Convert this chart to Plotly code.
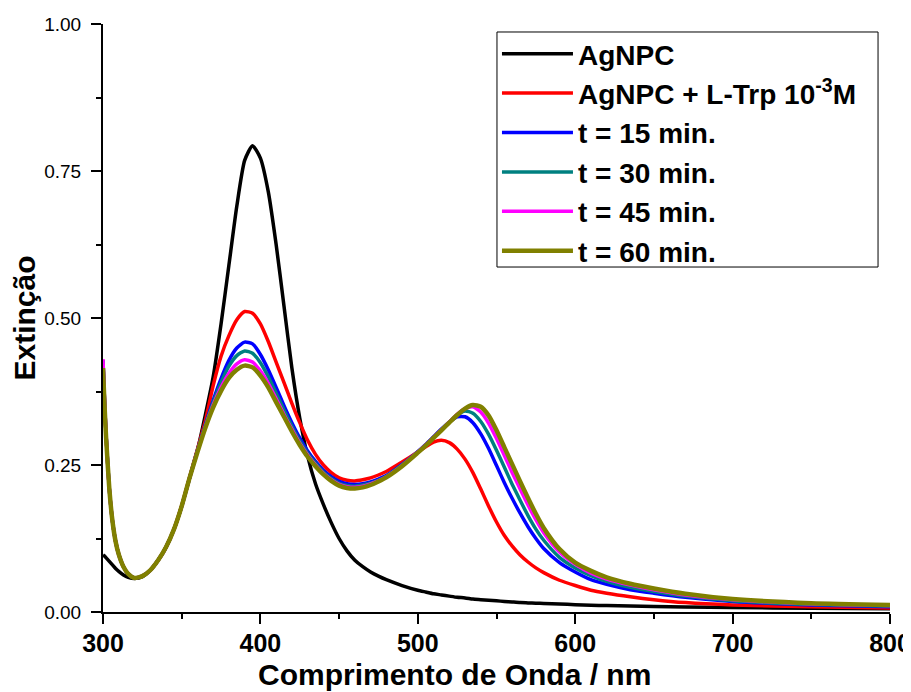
import plotly.graph_objects as go

# Wavelength grid (nm)
wavelength = [300, 301, 302, 304, 306, 308, 310, 313, 316, 320, 325, 330, 335, 340, 345,
              350, 355, 360, 365, 370, 375, 380, 385, 390, 395, 400, 405, 410, 415, 420,
              425, 430, 435, 440, 445, 450, 455, 460, 465, 470, 475, 480, 490, 500, 505,
              510, 515, 520, 525, 530, 535, 540, 545, 550, 555, 560, 565, 570, 575, 580,
              590, 600, 610, 620, 635, 650, 670, 700, 750, 800]

agnpc = [0.097, 0.095, 0.092, 0.086, 0.080, 0.074, 0.069, 0.063, 0.059, 0.057, 0.060, 0.071, 0.088, 0.110, 0.140,
         0.180, 0.228, 0.275, 0.335, 0.400, 0.490, 0.590, 0.690, 0.768, 0.793, 0.772, 0.715, 0.625, 0.520, 0.415,
         0.330, 0.265, 0.218, 0.183, 0.152, 0.125, 0.104, 0.088, 0.077, 0.068, 0.061, 0.055, 0.045, 0.037, 0.034,
         0.031, 0.029, 0.027, 0.025, 0.024, 0.022, 0.021, 0.020, 0.019, 0.018, 0.017, 0.016, 0.0155, 0.015, 0.0145,
         0.0135, 0.0125, 0.0115, 0.011, 0.010, 0.0095, 0.0085, 0.0075, 0.0065, 0.0055]

agnpc_trp = [0.425, 0.355, 0.298, 0.210, 0.155, 0.120, 0.098, 0.077, 0.065, 0.058, 0.061, 0.071, 0.088, 0.110, 0.140,
             0.181, 0.229, 0.277, 0.325, 0.385, 0.435, 0.470, 0.497, 0.511, 0.508, 0.490, 0.460, 0.425, 0.390, 0.355,
             0.322, 0.292, 0.268, 0.250, 0.237, 0.228, 0.224, 0.223, 0.225, 0.228, 0.233, 0.239, 0.255, 0.272, 0.281,
             0.289, 0.292, 0.288, 0.277, 0.260, 0.237, 0.209, 0.180, 0.153, 0.130, 0.112, 0.097, 0.085, 0.075, 0.067,
             0.054, 0.045, 0.037, 0.032, 0.026, 0.021, 0.016, 0.012, 0.009, 0.007]

t15 = [0.428, 0.357, 0.299, 0.210, 0.155, 0.120, 0.098, 0.077, 0.065, 0.058, 0.061, 0.071, 0.088, 0.110, 0.140,
       0.180, 0.228, 0.275, 0.319, 0.360, 0.397, 0.428, 0.449, 0.459, 0.456, 0.438, 0.412, 0.382, 0.351, 0.322,
       0.296, 0.274, 0.256, 0.241, 0.230, 0.222, 0.218, 0.217, 0.218, 0.221, 0.226, 0.232, 0.251, 0.273, 0.285,
       0.298, 0.311, 0.323, 0.332, 0.332, 0.322, 0.303, 0.278, 0.249, 0.220, 0.193, 0.168, 0.145, 0.125, 0.108,
       0.084, 0.068, 0.055, 0.047, 0.038, 0.032, 0.025, 0.018, 0.012, 0.009]

t30 = [0.428, 0.357, 0.299, 0.210, 0.155, 0.120, 0.098, 0.077, 0.065, 0.058, 0.061, 0.071, 0.088, 0.110, 0.140,
       0.180, 0.228, 0.274, 0.317, 0.356, 0.390, 0.418, 0.436, 0.444, 0.440, 0.424, 0.400, 0.372, 0.343, 0.316,
       0.291, 0.270, 0.253, 0.238, 0.227, 0.219, 0.215, 0.214, 0.216, 0.219, 0.224, 0.231, 0.250, 0.272, 0.284,
       0.297, 0.310, 0.323, 0.335, 0.342, 0.338, 0.324, 0.302, 0.275, 0.246, 0.217, 0.190, 0.164, 0.141, 0.122,
       0.093, 0.075, 0.062, 0.052, 0.042, 0.035, 0.027, 0.019, 0.013, 0.010]

t45 = [0.430, 0.358, 0.300, 0.210, 0.155, 0.120, 0.098, 0.077, 0.065, 0.058, 0.061, 0.071, 0.088, 0.110, 0.140,
       0.180, 0.228, 0.273, 0.315, 0.352, 0.382, 0.406, 0.422, 0.429, 0.425, 0.410, 0.389, 0.363, 0.336, 0.311,
       0.287, 0.267, 0.250, 0.236, 0.225, 0.217, 0.213, 0.212, 0.214, 0.218, 0.223, 0.230, 0.249, 0.272, 0.284,
       0.297, 0.310, 0.323, 0.336, 0.346, 0.349, 0.340, 0.321, 0.295, 0.266, 0.237, 0.209, 0.182, 0.157, 0.135,
       0.102, 0.081, 0.066, 0.056, 0.046, 0.038, 0.029, 0.021, 0.014, 0.011]

t60 = [0.415, 0.350, 0.295, 0.210, 0.155, 0.120, 0.098, 0.077, 0.065, 0.058, 0.061, 0.071, 0.088, 0.110, 0.140,
       0.180, 0.228, 0.272, 0.313, 0.348, 0.376, 0.398, 0.412, 0.419, 0.416, 0.402, 0.382, 0.357, 0.332, 0.307,
       0.284, 0.264, 0.248, 0.234, 0.223, 0.215, 0.211, 0.210, 0.212, 0.216, 0.222, 0.229, 0.248, 0.271, 0.283,
       0.296, 0.309, 0.322, 0.335, 0.346, 0.352, 0.349, 0.334, 0.309, 0.280, 0.251, 0.222, 0.194, 0.167, 0.143,
       0.107, 0.084, 0.070, 0.059, 0.048, 0.040, 0.031, 0.022, 0.015, 0.012]

series_names = ["AgNPC", "AgNPC + L-Trp 10<sup>-3</sup>M", "t = 15 min.", "t = 30 min.",
                "t = 45 min.", "t = 60 min."]
series_values = [agnpc, agnpc_trp, t15, t30, t45, t60]
series_colors = ["#000000", "#FF0000", "#0000FF", "#008080", "#FF00FF", "#808000"]
series_widths = [3.5, 3.5, 3.5, 3.5, 3.5, 4.5]

x_ticks = [300, 400, 500, 600, 700, 800]
y_ticks = [0.0, 0.25, 0.5, 0.75, 1.0]

fig = go.Figure()
for name, vals, col, w in zip(series_names, series_values, series_colors, series_widths):
    fig.add_trace(go.Scatter(x=wavelength, y=vals, mode="lines", name=name,
                             line=dict(color=col, width=w, shape="spline", smoothing=0.6)))

font_family = "Liberation Sans, Arial, sans-serif"

# the page body adds an 8px offset; margins compensate so the plot area lands at x 103-890, y 24-612
fig.update_layout(
    width=911, height=692,
    margin=dict(l=95, r=29, t=16, b=88),
    paper_bgcolor="white", plot_bgcolor="white",
    font=dict(family=font_family, color="black"),
    showlegend=True,
    legend=dict(x=0.5006, y=0.9915, xanchor="left", yanchor="top",
                bgcolor="rgba(0,0,0,0)", borderwidth=0,
                font=dict(size=28, family=font_family, color="black", weight="bold"),
                itemwidth=71, tracegroupgap=0),
    shapes=[dict(type="rect", xref="paper", yref="paper",
                 x0=0.5006, x1=0.9848, y0=0.5867, y1=0.9864,
                 line=dict(color="black", width=1), fillcolor="white", layer="above")],
    xaxis=dict(range=[300, 800], tickvals=x_ticks, ticktext=[str(v) for v in x_ticks],
               showgrid=False, zeroline=False, showline=True, linecolor="black", linewidth=2,
               ticks="outside", ticklen=10, tickwidth=2, tickcolor="black",
               tickfont=dict(size=25, family=font_family, color="black", weight="bold"),
               ticklabelstandoff=-2,
               minor=dict(dtick=50, ticks="outside", ticklen=5, tickwidth=2, tickcolor="black"),
               automargin=False, mirror=False),
    yaxis=dict(range=[0, 1], tickvals=y_ticks, ticktext=[f"{v:.2f}" for v in y_ticks],
               showgrid=False, zeroline=False, showline=True, linecolor="black", linewidth=2,
               ticks="outside", ticklen=10, tickwidth=2, tickcolor="black",
               tickfont=dict(size=19, family=font_family, color="black"),
               ticklabelstandoff=6,
               minor=dict(dtick=0.125, ticks="outside", ticklen=5, tickwidth=2, tickcolor="black"),
               title=dict(text="Extinção", font=dict(size=30, family=font_family, color="black", weight="bold"),
                          standoff=4),
               automargin=False, mirror=False),
    annotations=[dict(text="Comprimento de Onda / nm", xref="paper", yref="paper",
                      x=0.447, y=-0.106, xanchor="center", yanchor="middle", showarrow=False,
                      font=dict(size=30, family=font_family, color="black", weight="bold"))],
)

fig.write_html("out.html")
